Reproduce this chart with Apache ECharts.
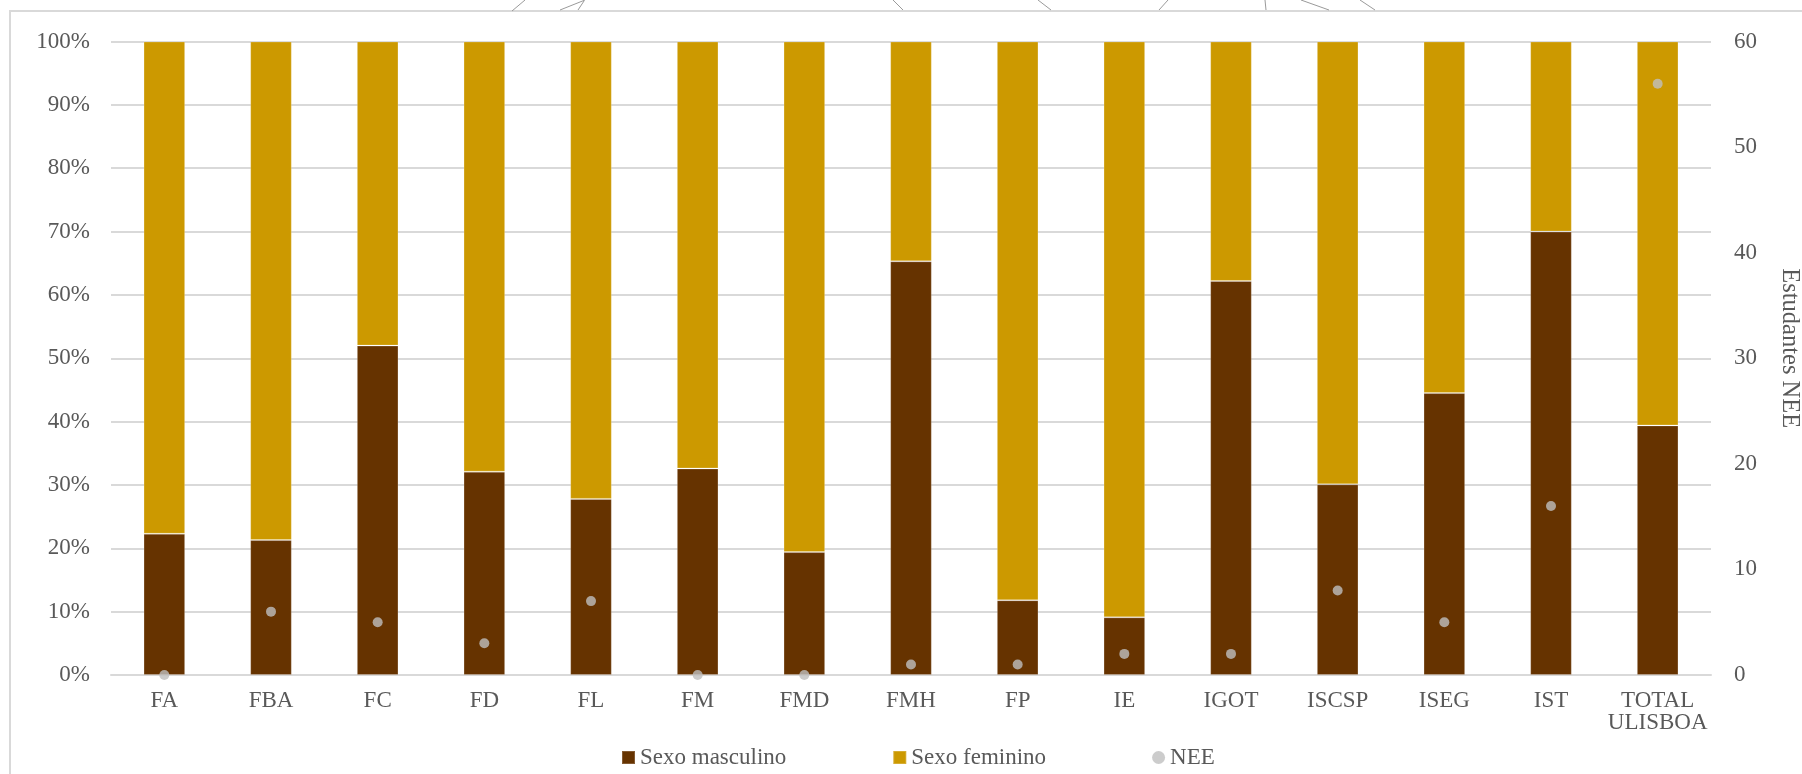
<!DOCTYPE html>
<html>
<head>
<meta charset="utf-8">
<script src="https://cdn.jsdelivr.net/npm/echarts@6/dist/echarts.min.js"></script>
<style>
html,body{margin:0;padding:0;background:#fff;}
#chart{width:1802px;height:774px;}
</style>
</head>
<body>
<div id="chart"></div>
<script>
var categories = ['FA','FBA','FC','FD','FL','FM','FMD','FMH','FP','IE','IGOT','ISCSP','ISEG','IST','TOTAL\nULISBOA'];
var sexoMasculino = [22.3, 21.3, 52.0, 32.1, 27.8, 32.6, 19.4, 65.3, 11.8, 9.1, 62.2, 30.1, 44.5, 70.0, 39.4];
var sexoFeminino  = [77.7, 78.7, 48.0, 67.9, 72.2, 67.4, 80.6, 34.7, 88.2, 90.9, 37.8, 69.9, 55.5, 30.0, 60.6];
var nee = [0, 6, 5, 3, 7, 0, 0, 1, 1, 2, 2, 8, 5, 16, 56];
var seriesNames = ['Sexo masculino', 'Sexo feminino', 'NEE'];
var rightAxisName = 'Estudantes NEE';

var FONT = '"Liberation Serif", "Times New Roman", serif';
var TXT = '#595959';
var chart = echarts.init(document.getElementById('chart'), null, {renderer: 'canvas'});

var decoLines = [
  [512, 11, 525, 0], [560, 10, 585, 0], [578, 10, 584, 1],
  [893, 0, 903, 10], [1038, 0, 1051, 10], [1159, 10, 1168, 0],
  [1265, 0, 1266, 10], [1301, 0, 1329, 10], [1360, 0, 1375, 10]
].map(function (l) {
  return {type: 'line', shape: {x1: l[0], y1: l[1], x2: l[2], y2: l[3]},
          style: {stroke: '#9a9a9a', lineWidth: 1}, silent: true};
});

chart.setOption({
  animation: false,
  backgroundColor: '#fff',
  textStyle: {fontFamily: FONT, color: TXT},
  graphic: [{
    type: 'rect', shape: {x: 10, y: 11, width: 1900, height: 900},
    style: {fill: 'none', stroke: '#D9D9D9', lineWidth: 2}, silent: true, z: -10
  }].concat(decoLines),
  grid: {left: 111, right: 91, top: 41.5, bottom: 99, containLabel: false, outerBoundsMode: 'none'},
  legend: {
    data: [
      {name: seriesNames[0], icon: 'rect'},
      {name: seriesNames[1], icon: 'rect'},
      {name: seriesNames[2], icon: 'circle'}
    ],
    left: 616, top: 741,
    itemWidth: 13, itemHeight: 13, itemGap: 106,
    textStyle: {fontFamily: FONT, fontSize: 23, color: TXT}
  },
  xAxis: {
    type: 'category',
    data: categories,
    axisLine: {show: true, lineStyle: {color: '#D9D9D9', width: 2}},
    axisTick: {show: false},
    axisLabel: {fontFamily: FONT, fontSize: 23, color: TXT, margin: 15, lineHeight: 22, interval: 0}
  },
  yAxis: [{
    type: 'value', min: 0, max: 100, interval: 10,
    axisLine: {show: false}, axisTick: {show: false},
    axisLabel: {formatter: '{value}%', fontFamily: FONT, fontSize: 23, color: TXT, margin: 21},
    splitLine: {lineStyle: {color: '#D9D9D9', width: 2}}
  }, {
    type: 'value', min: 0, max: 60, interval: 10,
    position: 'right',
    name: rightAxisName, nameLocation: 'middle', nameRotate: -90, nameGap: 66,
    nameTextStyle: {fontFamily: FONT, fontSize: 24.5, color: TXT, padding: [0, 20, 0, 0]},
    axisLine: {show: false}, axisTick: {show: false},
    axisLabel: {fontFamily: FONT, fontSize: 23, color: TXT, margin: 23},
    splitLine: {show: false}
  }],
  series: [{
    name: seriesNames[0], type: 'bar', stack: 'sexo', barWidth: '39%',
    data: sexoMasculino,
    itemStyle: {color: '#663300', borderColor: 'rgba(255,255,255,0.2)', borderWidth: 1}
  }, {
    name: seriesNames[1], type: 'bar', stack: 'sexo', barWidth: '39%',
    data: sexoFeminino,
    itemStyle: {color: '#CC9900', borderColor: 'rgba(255,255,255,0.2)', borderWidth: 1}
  }, {
    name: seriesNames[2], type: 'scatter', yAxisIndex: 1,
    data: nee, symbol: 'circle', symbolSize: 10, clip: false,
    itemStyle: {color: '#BFBFBF'}, z: 5
  }]
});
</script>
</body>
</html>
